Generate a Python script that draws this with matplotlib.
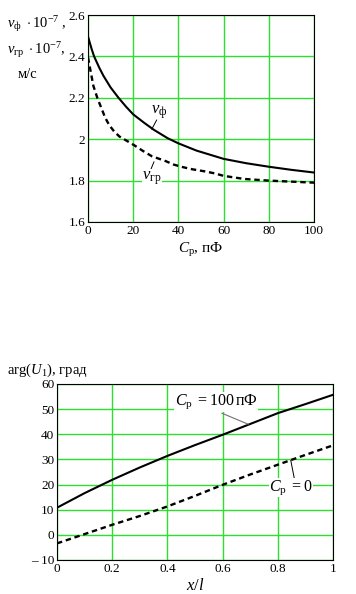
import matplotlib
matplotlib.use("Agg")
import matplotlib.pyplot as plt

plt.rcParams["font.family"] = ["Liberation Serif", "DejaVu Serif"]
plt.rcParams["mathtext.fontset"] = "custom"
plt.rcParams["mathtext.rm"] = "Liberation Serif"
plt.rcParams["mathtext.it"] = "Liberation Serif:italic"

# top chart: phase / group velocity vs Cp (pF)
CP_PH = [0, 1.6, 2.7, 5, 6.9, 10, 13.5, 17, 20, 25, 29.2, 35.2, 40, 48, 60, 70, 80, 90, 100]
V_PH = [2.496, 2.436, 2.40, 2.345, 2.305, 2.25, 2.20, 2.155, 2.12, 2.078, 2.045, 2.005,
        1.98, 1.945, 1.905, 1.884, 1.867, 1.852, 1.839]
CP_GR = [0, 1.3, 2.4, 4.2, 6.0, 7.6, 9.4, 11.6, 13.9, 17.5, 21, 24.2, 28.2, 34.4,
         38, 42, 46, 52, 56, 60, 69, 80, 90, 100]
V_GR = [2.395, 2.32, 2.257, 2.197, 2.148, 2.104, 2.068, 2.037, 2.013, 1.99, 1.967,
        1.944, 1.918, 1.894, 1.877, 1.865, 1.855, 1.844, 1.835, 1.823, 1.808, 1.80,
        1.795, 1.79]

# bottom chart: arg(U1) vs x/l
XL = [0, 0.1, 0.2, 0.3, 0.4, 0.5, 0.6, 0.7, 0.8, 0.9, 1.0]
ARG_100 = [10.8, 16.6, 21.9, 26.8, 31.4, 35.7, 39.8, 44.1, 48.4, 52.0, 55.7]
ARG_0 = [-3.4, 0.3, 4.0, 7.5, 11.3, 15.5, 19.9, 24.0, 27.9, 31.8, 35.6]

GREEN = "#2ee02e"
TICK_FS = 9.5
LAB_FS = 10.5
DASH = (0, (2.3, 1.6))

fig = plt.figure(figsize=(3.56, 5.94), dpi=100)

ax1 = fig.add_axes([88 / 356, 1 - 222 / 594, 226 / 356, 207 / 594])
ax1.plot(CP_PH, V_PH, color="black", lw=1.5)
ax1.plot(CP_GR, V_GR, color="black", lw=1.7, ls=DASH)
ax1.set_xlim(0, 100); ax1.set_ylim(1.6, 2.6)
ax1.set_xticks([0, 20, 40, 60, 80, 100])
ax1.set_yticks([1.6, 1.8, 2.0, 2.2, 2.4, 2.6])
ax1.set_yticklabels(["1.6", "1.8", "2", "2.2", "2.4", "2.6"])
ax1.grid(color=GREEN, lw=1.0)
ax1.set_axisbelow(True)
ax1.tick_params(length=0, labelsize=TICK_FS, pad=2)
ax1.set_xlabel(r"$C_{\mathrm{р}}$, пФ", fontsize=LAB_FS + 0.5, labelpad=3)
# leader lines and curve labels
ax1.annotate("", xy=(28.2, 2.048), xytext=(30.4, 2.093),
             arrowprops=dict(arrowstyle="-", color="black", lw=0.7, shrinkA=0, shrinkB=0))
ax1.text(31.5, 2.132, r"$v_{\mathrm{ф}}$", fontsize=LAB_FS + 1.5, ha="center", va="center")
ax1.annotate("", xy=(29.2, 1.891), xytext=(27.7, 1.851),
             arrowprops=dict(arrowstyle="-", color="black", lw=0.7, shrinkA=0, shrinkB=0))
ax1.text(28.3, 1.812, r"$v_{\mathrm{гр}}$", fontsize=LAB_FS + 1.5, ha="center", va="center",
         bbox=dict(fc="white", ec="none", pad=0.3))
fig.text(7 / 356, 1 - 24 / 594, r"$v_{\mathrm{ф}}\ \cdot 10^{-7}$ ,", fontsize=LAB_FS,
         ha="left", va="center")
fig.text(7 / 356, 1 - 50 / 594, r"$v_{\mathrm{гр}}\ \cdot 10^{-7}$,", fontsize=LAB_FS,
         ha="left", va="center")
fig.text(18 / 356, 1 - 75 / 594, "м/с", fontsize=LAB_FS, ha="left", va="center")

ax2 = fig.add_axes([57 / 356, 1 - 560 / 594, 276 / 356, 176 / 594])
ax2.plot(XL, ARG_100, color="black", lw=1.5)
ax2.plot(XL, ARG_0, color="black", lw=1.7, ls=DASH)
ax2.set_xlim(0, 1); ax2.set_ylim(-10, 60)
ax2.set_xticks([0, 0.2, 0.4, 0.6, 0.8, 1.0])
ax2.set_xticklabels(["0", "0.2", "0.4", "0.6", "0.8", "1"])
ax2.set_yticks([-10, 0, 10, 20, 30, 40, 50, 60])
ax2.set_yticklabels(["– 10", "0", "10", "20", "30", "40", "50", "60"])
ax2.grid(color=GREEN, lw=1.0)
ax2.set_axisbelow(True)
ax2.tick_params(length=0, labelsize=TICK_FS, pad=2)
ax2.set_xlabel(r"$x/l$", fontsize=LAB_FS + 1.5, labelpad=2)
ax2.annotate("", xy=(0.693, 44.0), xytext=(0.597, 48.4),
             arrowprops=dict(arrowstyle="-", color="0.45", lw=0.8, shrinkA=0, shrinkB=0))
ax2.text(0.576, 52.8, r"$C_{\mathrm{р}}\ = 100\,$пФ", fontsize=LAB_FS + 1,
         ha="center", va="center", bbox=dict(fc="white", ec="none", pad=0.3))
ax2.annotate("", xy=(0.847, 29.6), xytext=(0.862, 21.2),
             arrowprops=dict(arrowstyle="-", color="black", lw=0.7, shrinkA=0, shrinkB=0))
ax2.text(0.848, 18.8, r"$C_{\mathrm{р}}\ = 0$", fontsize=LAB_FS + 1,
         ha="center", va="center", bbox=dict(fc="white", ec="none", pad=0.3))
fig.text(7 / 356, 1 - 370 / 594, r"$\mathrm{arg}(U_1)$, град", fontsize=LAB_FS,
         ha="left", va="center")

fig.savefig("out.png", dpi=100)
